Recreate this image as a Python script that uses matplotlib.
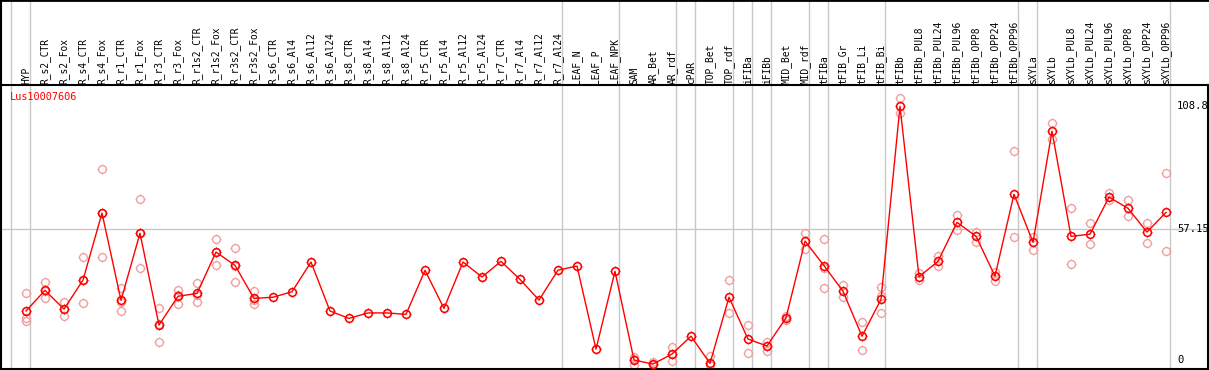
import matplotlib
matplotlib.use("Agg")
import matplotlib.pyplot as plt
from matplotlib.path import Path

W, H = 1209, 370

title = "Lus10007606"

samples = [
    "HYP", "R_s2_CTR", "R_s2_Fox", "R_s4_CTR", "R_s4_Fox", "R_r1_CTR", "R_r1_Fox",
    "R_r3_CTR", "R_r3_Fox", "R_r1s2_CTR", "R_r1s2_Fox", "R_r3s2_CTR", "R_r3s2_Fox",
    "R_s6_CTR", "R_s6_Al4", "R_s6_Al12", "R_s6_Al24",
    "R_s8_CTR", "R_s8_Al4", "R_s8_Al12", "R_s8_Al24",
    "R_r5_CTR", "R_r5_Al4", "R_r5_Al12", "R_r5_Al24",
    "R_r7_CTR", "R_r7_Al4", "R_r7_Al12", "R_r7_Al24",
    "LEAF_N", "LEAF_P", "LEAF_NPK",
    "SAM", "AR_Bet", "AR_rdf", "cPAR", "TOP_Bet", "TOP_rdf",
    "iFIBa", "iFIBb", "MID_Bet", "MID_rdf",
    "tFIBa", "tFIB_Gr", "tFIB_Li", "tFIB_Bi",
    "tFIBb", "tFIBb_PUL8", "tFIBb_PUL24", "tFIBb_PUL96",
    "tFIBb_OPP8", "tFIBb_OPP24", "tFIBb_OPP96",
    "sXYLa", "sXYLb", "sXYLb_PUL8", "sXYLb_PUL24", "sXYLb_PUL96",
    "sXYLb_OPP8", "sXYLb_OPP24", "sXYLb_OPP96",
]

# mean expression per sample
means = [
    22.7, 31.4, 23.5, 35.7, 63.9, 27.2, 55.4, 16.8, 28.9, 30.1, 47.5, 41.9, 28.0,
    28.5, 30.8, 43.3, 22.7,
    19.6, 21.9, 21.9, 21.3,
    39.8, 23.8, 43.3, 37.0,
    43.6, 36.0, 27.3, 39.9,
    41.6, 6.7, 39.4,
    2.1, 0.4, 4.6, 12.1, 0.7, 28.5,
    10.9, 8.0, 19.8, 52.1,
    41.8, 31.0, 12.1, 27.6,
    108.8, 37.1, 43.6, 60.0, 54.1, 37.4, 71.8,
    51.6, 98.3, 54.1, 55.0, 70.6, 65.9, 55.9, 64.2,
]

# individual replicates (only the ones that can be seen)
replicates = [
    [30.3, 19.8, 18.6], [34.9, 28.0, 31.3], [26.5, 20.5, 23.5], [45.4, 25.9, 35.8],
    [82.4, 45.4, 63.9], [32.5, 22.7, 26.4], [69.8, 40.7, 55.7], [23.8, 9.5, 17.1],
    [31.5, 25.8, 29.4], [34.4, 26.4, 29.5], [53.0, 41.9, 47.6], [49.2, 34.8, 41.7],
    [31.1, 25.5, 27.4],
    [], [], [], [],
    [], [], [], [],
    [], [], [], [],
    [], [], [], [],
    [], [], [],
    [3.5, 0.1, 2.7], [1.4, 0.0], [7.6, 1.7, 4.5], [], [3.9, 0.0], [35.6, 21.7],
    [16.7, 4.9], [9.8, 5.9], [20.7, 18.9], [55.4, 48.7],
    [53.0, 32.3, 40.7], [33.8, 28.5], [18.0, 6.2], [32.7, 21.7, 29.0],
    [112.1, 105.8], [38.6, 35.7], [46.0, 41.5], [62.9, 56.6],
    [56.1, 51.7], [39.1, 35.2], [90.0, 53.8],
    [53.8, 48.4], [101.8, 95.2], [66.0, 42.5], [59.6, 50.9], [72.2, 69.3],
    [69.4, 62.5], [59.6, 51.4], [80.6, 47.8],
]

# last sample index (1-based) of each group, 0 = left edge
group_ends = [0, 1, 29, 32, 35, 36, 38, 39, 40, 42, 43, 46, 53, 54, 61]

y_max = 108.8
y_mid = 57.15

RED = "#ff0000"
PINK = "#f0a0a0"
GRID = "#c8c8c8"
FONT = "DejaVu Sans Mono"

# little spikes that stick out of each circle
TICKS = Path(
    [[0, 0.74], [0, 1], [0, -0.74], [0, -1], [0.74, 0], [1, 0], [-0.74, 0], [-1, 0]],
    [Path.MOVETO, Path.LINETO] * 4,
)


def draw_points(ax, x, y, color, zorder, mew=1.0):
    ax.plot(x, y, ls="none", marker="o", ms=5.6, mfc="none", mec=color,
            mew=mew, zorder=zorder)
    ax.plot(x, y, ls="none", marker=TICKS, ms=7.8, mfc="none", mec=color,
            mew=0.7, zorder=zorder)


def main():
    fig = plt.figure(figsize=(W / 100, H / 100), dpi=100)

    # x: sample i sits at pixel 7 + 19*i
    xlim = ((1 - 7) / 19, (1208 - 7) / 19)
    left = 1 / W
    width = 1207 / W

    ax_h = fig.add_axes([left, 1 - 85 / H, width, 85 / H])
    ax = fig.add_axes([left, 1 / H, width, 284 / H])

    xs = list(range(1, len(samples) + 1))

    # header with sample names
    ax_h.set_xlim(*xlim)
    ax_h.set_ylim(85, 0)
    ax_h.set_xticks([])
    ax_h.set_yticks([])
    for side in ["right", "bottom"]:
        ax_h.spines[side].set_visible(False)
    ax_h.spines["top"].set_linewidth(2)
    ax_h.spines["left"].set_linewidth(1.5)
    for g in group_ends:
        ax_h.axvline(g + 0.21, color=GRID, lw=1)
    for x, name in zip(xs, samples):
        ax_h.text(x, 83.5, name, rotation=90, ha="center", va="bottom",
                  fontsize=6.9, family=FONT, color="black")

    # main plot, y scale: 0 at pixel 365, 2.378 px per unit
    ax.set_xlim(*xlim)
    ax.set_ylim(-4 / 2.378, 280 / 2.378)
    ax.set_xticks([])
    ax.set_yticks([])
    for side in ["top", "left", "right", "bottom"]:
        ax.spines[side].set_linewidth(1.5)
    for g in group_ends:
        ax.axvline(g + 0.21, color=GRID, lw=1, zorder=1)
    ax.axhline(y_mid, color=GRID, lw=1, zorder=1)

    rx = [x for x, reps in zip(xs, replicates) for _ in reps]
    ry = [v for reps in replicates for v in reps]
    draw_points(ax, rx, ry, PINK, 2, mew=1.0)

    ax.plot(xs, means, color=RED, lw=1.0, zorder=3)
    draw_points(ax, xs, means, RED, 4, mew=1.15)

    xr = (1177 - 7) / 19
    ax.text(xr, y_max, f"{y_max:g}", ha="left", va="center", fontsize=7.6,
            family=FONT)
    ax.text(xr, y_mid, f"{y_mid:g}", ha="left", va="center", fontsize=7.6,
            family=FONT)
    ax.text(xr, 0, "0", ha="left", va="bottom", fontsize=7.6, family=FONT)

    fig.text(9.5 / W, 1 - 97 / H, title, color=RED, ha="left", va="center",
             fontsize=7.4, family=FONT)

    fig.savefig("out.png", dpi=100)
    plt.close(fig)


if __name__ == "__main__":
    main()
